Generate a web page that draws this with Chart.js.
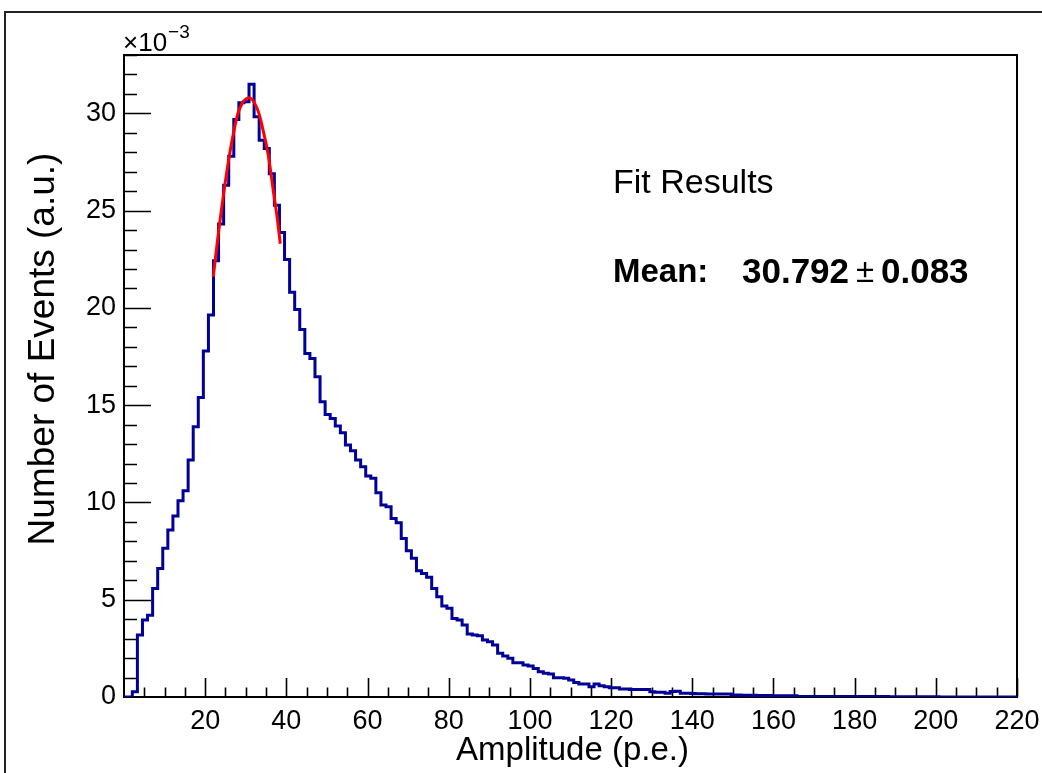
<!DOCTYPE html>
<html>
<head>
<meta charset="utf-8">
<script src="https://cdn.jsdelivr.net/npm/chart.js@4.4.1/dist/chart.umd.min.js"></script>
<style>
  html, body { margin: 0; padding: 0; background: #fff; }
  #wrap { width: 1042px; height: 773px; }
</style>
</head>
<body>
<div id="wrap"><canvas id="ampChart" width="1042" height="773"></canvas></div>
<script>
// histogram contents, in units of 1e-3, one value per bin
const binLow = -0.45;   // lower edge of first bin (p.e.)
const binWidth = 1.25;  // bin width (p.e.)
const binValues = [
  0, 0, 0.27, 3.19, 3.96, 4.20, 5.58, 6.60, 7.64, 8.58,
  9.30, 10.09, 10.60, 12.18, 13.89, 15.40, 17.78, 19.63, 22.42, 24.31,
  26.31, 27.80, 29.69, 30.54, 30.60, 31.50, 29.82, 28.62, 28.20, 26.90,
  25.28, 23.88, 22.49, 20.80, 19.92, 18.89, 17.66, 17.40, 16.46, 15.18,
  14.52, 14.32, 13.93, 13.58, 12.95, 12.66, 12.18, 11.83, 11.36, 11.24,
  10.50, 9.87, 9.78, 9.18, 8.96, 8.15, 7.52, 7.13, 6.49, 6.35,
  6.15, 5.58, 5.15, 4.68, 4.56, 4.04, 3.96, 3.70, 3.24, 3.19,
  3.15, 2.93, 2.84, 2.67, 2.25, 2.11, 1.99, 1.76, 1.76, 1.64,
  1.59, 1.47, 1.30, 1.22, 1.18, 0.99, 0.99, 0.96, 0.87, 0.74,
  0.67, 0.67, 0.53, 0.67, 0.58, 0.53, 0.48, 0.48, 0.41, 0.41,
  0.39, 0.39, 0.39, 0.39, 0.27, 0.24, 0.24, 0.19, 0.28, 0.30,
  0.19, 0.19, 0.18, 0.17, 0.17, 0.16, 0.16, 0.15, 0.15, 0.15,
  0.10, 0.10, 0.09, 0.09, 0.09, 0.08, 0.08, 0.08, 0.07, 0.07,
  0.07, 0.06, 0.06, 0.03, 0.03, 0.03, 0.03, 0.03, 0.03, 0.03,
  0.03, 0.02, 0.02, 0.02, 0.02, 0.02, 0.02, 0.02, 0.02, 0.02,
  0.02, 0.01, 0.01, 0.01, 0.01, 0.01, 0.01, 0.01, 0.01, 0.01,
  0.01, 0, 0, 0, 0, 0, 0, 0, 0, 0,
  0, 0, 0, 0, 0, 0, 0
];

// gaussian fit curve
const fitX = [22, 23, 24.3, 25.7, 27, 28.6, 30.8, 32.7, 34.3, 35.5, 36.8, 37.7, 38.5];
const fitY = [21.6, 23.4, 25.5, 27.5, 29.0, 30.3, 30.8, 30.3, 29.1, 27.9, 26.0, 24.7, 23.3];

const xTickValues = [20, 40, 60, 80, 100, 120, 140, 160, 180, 200, 220];
const yTickValues = [0, 5, 10, 15, 20, 25, 30];

const fitMean = '30.792';
const fitErr = '0.083';

const FONT = '"Liberation Sans", Arial, Helvetica, sans-serif';

// bin edges -> step points
const histPoints = binValues.map((v, i) => ({ x: binLow + i * binWidth, y: v }));
histPoints.push({ x: binLow + binValues.length * binWidth, y: binValues[binValues.length - 1] });
const fitPoints = fitX.map((x, i) => ({ x: x, y: fitY[i] }));

// ROOT-like frame, inward ticks and labels
const rootStyle = {
  id: 'rootStyle',
  beforeDatasetsDraw(chart) {
    const { ctx, chartArea: a, scales: { x, y } } = chart;
    ctx.save();
    ctx.strokeStyle = '#000';
    ctx.lineWidth = 2;
    ctx.strokeRect(a.left, a.top, a.right - a.left, a.bottom - a.top);

    ctx.lineWidth = 1.6;
    ctx.beginPath();
    for (let v = x.min + 5; v < x.max + 0.01; v += 5) {
      const px = Math.round(x.getPixelForValue(v)) + 0.5;
      const len = (v % 20 === 0) ? 19 : 9.5;
      ctx.moveTo(px, a.bottom);
      ctx.lineTo(px, a.bottom - len);
    }
    for (let v = y.min + 1; v < y.max + 0.01; v += 1) {
      const py = Math.round(y.getPixelForValue(v)) + 0.5;
      const len = (v % 5 === 0) ? 27 : 13;
      ctx.moveTo(a.left, py);
      ctx.lineTo(a.left + len, py);
    }
    ctx.stroke();
    ctx.restore();
  },
  afterDraw(chart) {
    const { ctx, chartArea: a } = chart;
    ctx.save();
    // outer pad border
    ctx.strokeStyle = '#222';
    ctx.lineWidth = 2;
    ctx.beginPath();
    ctx.moveTo(5, 773);
    ctx.lineTo(5, 12);
    ctx.lineTo(1042, 12);
    ctx.stroke();

    ctx.fillStyle = '#000';
    ctx.textBaseline = 'middle';

    // axis titles
    ctx.font = '33px ' + FONT;
    ctx.textAlign = 'center';
    ctx.fillText('Amplitude (p.e.)', (a.left + a.right) / 2 + 2, 751);
    ctx.save();
    ctx.translate(44, 349);
    ctx.rotate(-Math.PI / 2);
    ctx.font = '37px ' + FONT;
    ctx.fillText('Number of Events (a.u.)', 0, 0);
    ctx.restore();

    // exponent
    ctx.textAlign = 'left';
    ctx.textBaseline = 'alphabetic';
    ctx.font = '26px ' + FONT;
    ctx.fillText('\u00d710', a.left - 1, 51);
    const w = ctx.measureText('\u00d710').width;
    ctx.font = '19px ' + FONT;
    ctx.fillText('\u22123', a.left + w, 38);

    // fit box text
    ctx.textBaseline = 'middle';
    ctx.font = '34px ' + FONT;
    ctx.fillText('Fit Results', 613, 184);
    ctx.font = 'bold 33px ' + FONT;
    ctx.fillText('Mean:', 613, 273);
    ctx.font = 'bold 35px ' + FONT;
    ctx.fillText(fitMean, 742, 273);
    ctx.font = '33px ' + FONT;
    ctx.fillText('\u00b1', 856, 273);
    ctx.font = 'bold 35px ' + FONT;
    ctx.fillText(fitErr, 881, 273);
    ctx.restore();
  }
};

new Chart(document.getElementById('ampChart'), {
  type: 'line',
  data: {
    datasets: [
      {
        label: 'fit',
        data: fitPoints,
        borderColor: '#ff0000',
        borderWidth: 3,
        pointRadius: 0,
        tension: 0.4,
        fill: false
      },
      {
        label: 'hist',
        data: histPoints,
        stepped: 'before',
        borderColor: '#000099',
        borderWidth: 3,
        pointRadius: 0,
        fill: false
      }
    ]
  },
  options: {
    responsive: false,
    devicePixelRatio: 1,
    animation: false,
    layout: { padding: { left: 0, right: 25, top: 55, bottom: 0 } },
    plugins: { legend: { display: false }, tooltip: { enabled: false } },
    scales: {
      x: {
        type: 'linear',
        min: 0,
        max: 220,
        grid: { display: false, drawTicks: false },
        border: { display: false },
        afterFit: s => { s.height = 76; s.paddingLeft = 0; s.paddingRight = 0; },
        afterBuildTicks: s => { s.ticks = xTickValues.map(v => ({ value: v })); },
        ticks: {
          autoSkip: false,
          maxRotation: 0,
          padding: 8,
          color: '#000',
          font: { family: FONT, size: 27 }
        }
      },
      y: {
        type: 'linear',
        min: 0,
        max: 33,
        grid: { display: false, drawTicks: false },
        border: { display: false },
        afterFit: s => { s.width = 124; s.paddingTop = 0; s.paddingBottom = 0; },
        afterBuildTicks: s => { s.ticks = yTickValues.map(v => ({ value: v })); },
        ticks: {
          autoSkip: false,
          padding: 8,
          color: '#000',
          font: { family: FONT, size: 27 }
        }
      }
    }
  },
  plugins: [rootStyle]
});
</script>
</body>
</html>
